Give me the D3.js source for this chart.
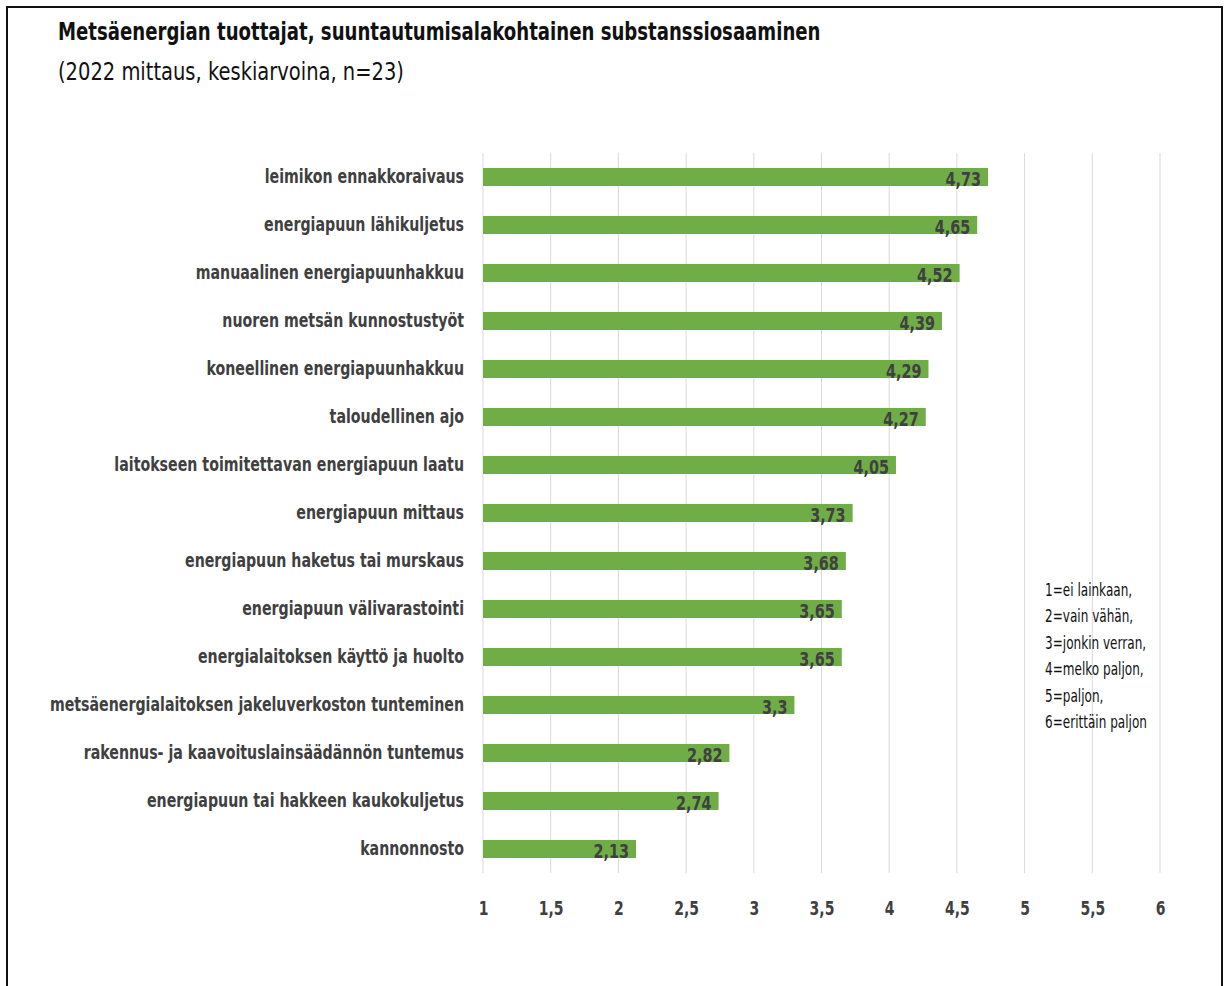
<!DOCTYPE html>
<html>
<head>
<meta charset="utf-8">
<script src="https://cdn.jsdelivr.net/npm/d3@7"></script>
<style>
  body { margin: 0; background: #fff; }
  svg text { font-family: "DejaVu Sans", sans-serif; }
</style>
</head>
<body>
<div id="chart-area"></div>
<script>
/* data */
const categories = [
  "leimikon ennakkoraivaus",
  "energiapuun lähikuljetus",
  "manuaalinen energiapuunhakkuu",
  "nuoren metsän kunnostustyöt",
  "koneellinen energiapuunhakkuu",
  "taloudellinen ajo",
  "laitokseen toimitettavan energiapuun laatu",
  "energiapuun mittaus",
  "energiapuun haketus tai murskaus",
  "energiapuun välivarastointi",
  "energialaitoksen käyttö ja huolto",
  "metsäenergialaitoksen jakeluverkoston tunteminen",
  "rakennus- ja kaavoituslainsäädännön tuntemus",
  "energiapuun tai hakkeen kaukokuljetus",
  "kannonnosto"
];
const values = [4.73, 4.65, 4.52, 4.39, 4.29, 4.27, 4.05, 3.73, 3.68, 3.65, 3.65, 3.3, 2.82, 2.74, 2.13];
const tickValues = [1, 1.5, 2, 2.5, 3, 3.5, 4, 4.5, 5, 5.5, 6];
const legendLines = [
  "1=ei lainkaan,",
  "2=vain vähän,",
  "3=jonkin verran,",
  "4=melko paljon,",
  "5=paljon,",
  "6=erittäin paljon"
];
const titleText = "Metsäenergian tuottajat, suuntautumisalakohtainen substanssiosaaminen";
const subtitleText = "(2022 mittaus, keskiarvoina, n=23)";

/* graphical constants */
const W = 1225, H = 986;
const margin = { left: 483, right: 65, top: 153, bottom: 113 };
const width = W - margin.left - margin.right;
const height = H - margin.top - margin.bottom;
const fmt = v => String(v).replace(".", ",");

// the source font is a condensed one: squeeze glyphs horizontally, keep the anchor x
function squeeze(sel, k) {
    sel.each(function () {
        const t = d3.select(this);
        const x0 = +t.attr("x") || 0;
        t.attr("x", x0 / k).attr("transform", "scale(" + k + ",1)");
    });
}

const svg = d3.select("#chart-area")
    .append("svg")
    .attr("width", W)
    .attr("height", H);

// frame
svg.append("rect")
    .attr("x", 7).attr("y", 7)
    .attr("width", 1215).attr("height", 990)
    .attr("fill", "none")
    .attr("stroke", "#111")
    .attr("stroke-width", 2);

svg.append("text")
    .attr("x", 58).attr("y", 40)
    .attr("font-size", "25px")
    .attr("font-weight", "bold")
    .attr("fill", "#111")
    .text(titleText)
    .call(squeeze, 0.725);

svg.append("text")
    .attr("x", 58).attr("y", 80)
    .attr("font-size", "25px")
    .attr("fill", "#111")
    .text(subtitleText)
    .call(squeeze, 0.78);

const g = svg.append("g")
    .attr("transform", "translate(" + margin.left + ", " + margin.top + ")");

// X Scale
const x = d3.scaleLinear()
    .domain([1, 6])
    .range([0, width]);

// Y Scale
const y = d3.scaleBand()
    .domain(categories)
    .range([0, height])
    .paddingInner(0.625)
    .paddingOuter(0.3125);

// gridlines
g.selectAll("line.grid")
    .data(tickValues)
    .enter()
    .append("line")
    .attr("class", "grid")
    .attr("x1", d => x(d)).attr("x2", d => x(d))
    .attr("y1", 0).attr("y2", height)
    .attr("stroke", "#d9d9d9")
    .attr("stroke-width", 1);

// X Axis
const xAxisGroup = g.append("g")
    .attr("transform", "translate(0," + height + ")")
    .call(d3.axisBottom(x).tickValues(tickValues).tickFormat(fmt).tickSize(0).tickPadding(28));
xAxisGroup.attr("font-family", null);
xAxisGroup.select(".domain").remove();
xAxisGroup.selectAll("text")
    .attr("font-size", "20px")
    .attr("font-weight", "bold")
    .attr("fill", "#404040")
    .call(squeeze, 0.7);

// Y Axis
const yAxisGroup = g.append("g")
    .call(d3.axisLeft(y).tickSize(0).tickPadding(19));
yAxisGroup.attr("font-family", null);
yAxisGroup.select(".domain").remove();
yAxisGroup.selectAll("text")
    .attr("font-size", "20px")
    .attr("font-weight", "bold")
    .attr("fill", "#404040")
    .call(squeeze, 0.71);

// bars
const data = categories.map((c, i) => ({ name: c, value: values[i] }));

g.selectAll("rect.bar")
    .data(data)
    .enter()
    .append("rect")
    .attr("class", "bar")
    .attr("x", x(1))
    .attr("y", d => y(d.name))
    .attr("width", d => x(d.value) - x(1))
    .attr("height", y.bandwidth())
    .attr("fill", "#70ad47");

g.selectAll("text.val")
    .data(data)
    .enter()
    .append("text")
    .attr("class", "val")
    .attr("x", d => x(d.value) - 7)
    .attr("y", d => y(d.name) + y.bandwidth() / 2 + 9)
    .attr("text-anchor", "end")
    .attr("font-size", "20px")
    .attr("font-weight", "bold")
    .attr("fill", "#404040")
    .text(d => fmt(d.value))
    .call(squeeze, 0.72);

// legend note
svg.append("g")
    .selectAll("text")
    .data(legendLines)
    .enter()
    .append("text")
    .attr("x", 1045)
    .attr("y", (d, i) => 596 + i * 26.5)
    .attr("font-size", "17px")
    .attr("fill", "#111")
    .text(d => d)
    .call(squeeze, 0.71);
</script>
</body>
</html>
